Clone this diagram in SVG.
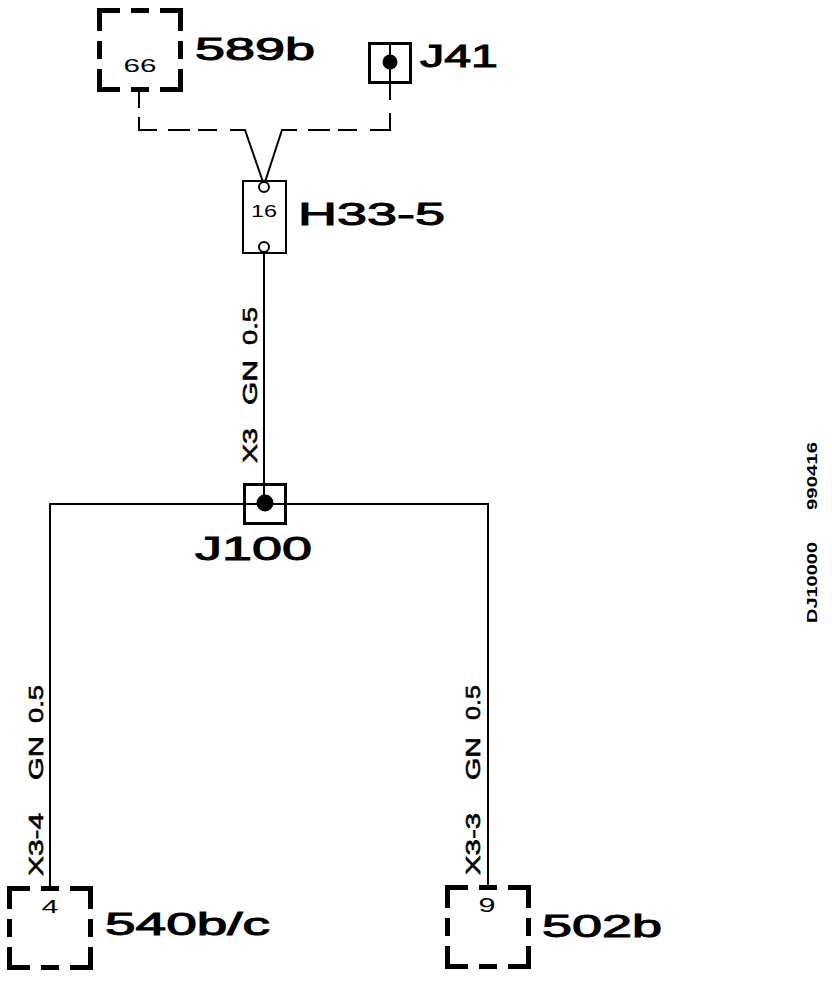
<svg xmlns="http://www.w3.org/2000/svg" width="832" height="982" viewBox="0 0 832 982">
<style>
  .bg{fill:#fff}
  .w{fill:none;stroke:#000;stroke-width:2}
  .box{fill:none;stroke:#000;stroke-width:3}
  .thin{fill:#fff;stroke:#000;stroke-width:2}
  .dbox{fill:none;stroke:#000;stroke-width:5;stroke-linecap:butt;stroke-linejoin:miter}
  .big{font-family:"Liberation Sans",Arial,sans-serif;font-weight:normal;fill:#000;stroke:#000;stroke-width:1}
  .sm{font-family:"Liberation Sans",Arial,sans-serif;fill:#000;text-anchor:middle}
  .wl{font-family:"Liberation Sans",Arial,sans-serif;font-weight:normal;fill:#000;stroke:#000;stroke-width:0.6;font-size:21px}
  .id{font-family:"Liberation Sans",Arial,sans-serif;font-weight:bold;fill:#000;font-size:14px}
</style>
<defs>
  <g id="dashbox">
    <path class="dbox" d="M2.5,23 V2.5 H23 M63,2.5 H83.5 V23 M83.5,61 V81.5 H63 M23,81.5 H2.5 V61 M34,2.5 H52 M34,81.5 H52 M2.5,33 V51 M83.5,33 V51"/>
  </g>
</defs>
<rect class="bg" x="0" y="0" width="832" height="982"/>

<g id="connectors">
  <path class="w" d="M139,92 V108 M139,117 V130 H157 M168,130 H190 M198,130 H217 M230,130 H245 L263,182 M265,182 L282,130 H297 M308,130 H330 M338,130 H357 M370,130 H390 V113"/>
  <path class="w" d="M390,84 V100"/>
  <path class="w" d="M264,252 V503"/>
  <path class="w" d="M50,888 V504 H488 V887"/>
  <g transform="translate(257,463) rotate(-90)">
    <text class="wl" x="0" y="0" textLength="35" lengthAdjust="spacingAndGlyphs">X3</text>
    <text class="wl" x="58" y="0" textLength="45" lengthAdjust="spacingAndGlyphs">GN</text>
    <text class="wl" x="118" y="0" textLength="38" lengthAdjust="spacingAndGlyphs">0.5</text>
  </g>
  <g transform="translate(43,876) rotate(-90)">
    <text class="wl" x="0" y="0" textLength="63" lengthAdjust="spacingAndGlyphs">X3-4</text>
    <text class="wl" x="96" y="0" textLength="44" lengthAdjust="spacingAndGlyphs">GN</text>
    <text class="wl" x="153" y="0" textLength="38" lengthAdjust="spacingAndGlyphs">0.5</text>
  </g>
  <g transform="translate(480,875) rotate(-90)">
    <text class="wl" x="0" y="0" textLength="62" lengthAdjust="spacingAndGlyphs">X3-3</text>
    <text class="wl" x="95" y="0" textLength="43" lengthAdjust="spacingAndGlyphs">GN</text>
    <text class="wl" x="155" y="0" textLength="35" lengthAdjust="spacingAndGlyphs">0.5</text>
  </g>
</g>

<g id="n589b">
  <use href="#dashbox" x="97" y="8"/>
  <text class="sm" x="140" y="72" font-size="19" textLength="33" lengthAdjust="spacingAndGlyphs">66</text>
  <text class="big" x="195" y="60" font-size="32" textLength="120" lengthAdjust="spacingAndGlyphs">589b</text>
</g>

<g id="J41">
  <rect class="box" x="369.5" y="43.5" width="41" height="39"/>
  <path class="w" d="M390,43 V84"/>
  <circle cx="390" cy="62" r="7.5" fill="#000"/>
  <text class="big" x="420" y="67" font-size="31" textLength="78" lengthAdjust="spacingAndGlyphs">J41</text>
</g>

<g id="H33-5">
  <rect class="w" x="243" y="181" width="43" height="72"/>
  <circle class="thin" cx="264" cy="187" r="5"/>
  <circle class="thin" cx="264" cy="247" r="5"/>
  <text class="sm" x="264" y="217" font-size="17" textLength="26" lengthAdjust="spacingAndGlyphs">16</text>
  <text class="big" x="298" y="225" font-size="32" textLength="147" lengthAdjust="spacingAndGlyphs">H33-5</text>
</g>

<g id="J100">
  <rect class="box" x="244.5" y="484.5" width="41" height="39"/>
  <circle cx="265" cy="503" r="8.5" fill="#000"/>
  <text class="big" x="195" y="560" font-size="34" textLength="117" lengthAdjust="spacingAndGlyphs">J100</text>
</g>

<g id="n540bc">
  <use href="#dashbox" x="7" y="886"/>
  <text class="sm" x="50" y="913" font-size="18" textLength="17" lengthAdjust="spacingAndGlyphs">4</text>
  <text class="big" x="105" y="935" font-size="31" textLength="165" lengthAdjust="spacingAndGlyphs">540b/c</text>
</g>

<g id="n502b">
  <use href="#dashbox" x="445" y="885"/>
  <text class="sm" x="487" y="912" font-size="20" textLength="17" lengthAdjust="spacingAndGlyphs">9</text>
  <text class="big" x="542" y="937" font-size="31" textLength="120" lengthAdjust="spacingAndGlyphs">502b</text>
</g>

<g id="drawing-id">
  <text class="id" transform="translate(817,510) rotate(-90)" x="0" y="0" textLength="68" lengthAdjust="spacingAndGlyphs">990416</text>
  <text class="id" transform="translate(817,623) rotate(-90)" x="0" y="0" textLength="81" lengthAdjust="spacingAndGlyphs">DJ10000</text>
</g>
</svg>
